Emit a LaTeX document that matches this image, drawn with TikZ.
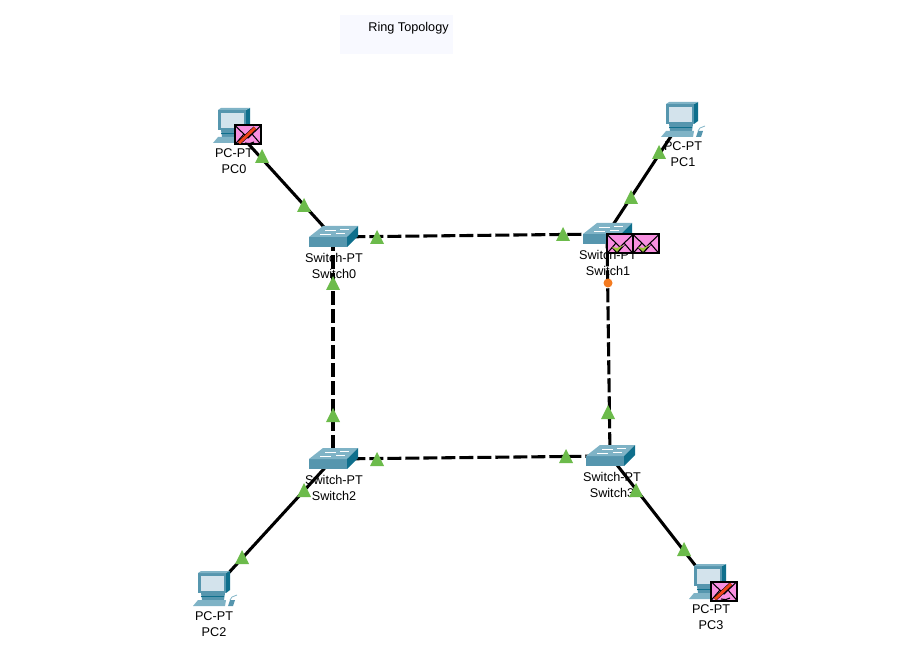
\documentclass[tikz,border=0pt]{standalone}
\usepackage{fontspec}
\setmainfont{Liberation Sans}
\usepackage{xcolor}
\usepackage{tikz}
\usetikzlibrary{positioning,calc}

\definecolor{linkgreen}{HTML}{6CBB4B}
\definecolor{linkorange}{HTML}{F47B20}
\definecolor{mailpink}{HTML}{F88FE0}
\definecolor{pencilred}{HTML}{F0441A}
\definecolor{checkgreen}{HTML}{9CC53A}
\definecolor{devfront}{HTML}{5696AE}
\definecolor{devtop}{HTML}{7FB3C6}
\definecolor{devside}{HTML}{0F6F8C}
\definecolor{devscreen}{HTML}{D3E3EC}
\definecolor{titlefill}{HTML}{F8F9FF}

\tikzset{
    devnode/.style={inner sep=0pt, minimum size=0pt},
    devlabel/.style={align=center, inner sep=0pt, text=black, font=\fontsize{9.5}{12}\selectfont},
    copper/.style={black, line width=2.3pt},
    fiber/.style={black, line width=2.3pt, dash pattern=on 10.6pt off 2.9pt},
    switchpt/.pic={
        \fill[devfront] (-24,0) -- (14,0) -- (14,10) -- (-24,10) -- cycle;
        \fill[devtop] (-24,0) -- (-10,-11) -- (25,-11) -- (14,0) -- cycle;
        \fill[devside] (14,0) -- (25,-11) -- (25,-1) -- (14,10) -- cycle;
        \draw[white, line width=0.6pt] (-8,-7) -- (3,-7) (7,-8) -- (16,-8) (-13,-3) -- (-2,-3) (3,-4) -- (12,-4);
    },
    pcpt/.pic={
        \fill[devfront] (-15,-17) -- (13,-17) -- (13,3) -- (-15,3) -- cycle;
        \fill[devside] (13,-17) -- (17,-19) -- (17,0) -- (13,3) -- cycle;
        \fill[devtop] (-15,-17) -- (-12,-19) -- (17,-19) -- (13,-17) -- cycle;
        \fill[devscreen] (-12,-14) rectangle (11,1);
        \fill[devfront] (-12,3) -- (12,3) -- (11,10) -- (-11,10) -- cycle;
        \fill[devside] (-12,6) rectangle (11,7);
        \fill[devtop] (-20,16) -- (-15,10) -- (13,10) -- (12,16) -- cycle;
        \fill[devfront] (15,16) -- (17,10) -- (22,10) -- (20,16) -- cycle;
        \draw[devtop, line width=0.6pt] (17,10) -- (19,7) -- (24,5);
    },
    mail/.pic={
        \draw[black, fill=mailpink, line width=1.5pt] (-13,-9.5) rectangle (13,9.5);
        \draw[black, line width=0.8pt] (-13,-9.5) -- (0,3) -- (13,-9.5) (-13,9.5) -- (-4,-1) (13,9.5) -- (4,-1);
    },
    mailfail/.pic={
        \pic {mail};
        \draw[black, line width=0.8pt] (-3,8) to[bend right=25] (6,7);
        \draw[black, line width=3pt] (-9,8) -- (7,-7);
        \draw[pencilred, line width=2.2pt] (-9,8) -- (7,-7);
    },
    mailok/.pic={
        \pic {mail};
        \fill[black] (-8,4) -- (-3,10) -- (5,1) -- (-3,6) -- cycle;
        \fill[checkgreen] (-8,3) -- (-3,8) -- (3,1) -- (-3,4) -- cycle;
    }
}

\begin{document}
\begin{tikzpicture}[x=0.75pt, y=-0.75pt]
\useasboundingbox (0,0) rectangle (923,655);

% title
\fill[titlefill] (340,15) rectangle (453,54);
\node[devlabel] (title) at (408.5,28) {Ring Topology};

% devices
\foreach \name/\x/\y in {pc0/233/127, pc1/681/121, pc2/213/590, pc3/709/583,
    sw0/333/237, sw1/607/234, sw2/333/459, sw3/610/456}
    \node[devnode] (\name) at (\x,\y) {};

% labels
\node[devlabel] (pc0lab) at (234,161) {PC-PT\\PC0};
\node[devlabel] (pc1lab) at (683,154) {PC-PT\\PC1};
\node[devlabel] (pc2lab) at (214,624) {PC-PT\\PC2};
\node[devlabel] (pc3lab) at (711,617) {PC-PT\\PC3};
\node[devlabel] (sw0lab) at (334,266) {Switch-PT\\Switch0};
\node[devlabel] (sw1lab) at (608,263) {Switch-PT\\Switch1};
\node[devlabel] (sw2lab) at (334,488) {Switch-PT\\Switch2};
\node[devlabel] (sw3lab) at (612,485) {Switch-PT\\Switch3};

% links
\draw[copper] (pc0) -- (sw0);
\draw[copper] (pc1) -- (sw1);
\draw[copper] (pc2) -- (sw2);
\draw[copper] (pc3) -- (sw3);
\draw[fiber] (sw0) -- (sw1);
\draw[fiber] (sw2) -- (sw3);
\draw[fiber] (sw0) -- (sw2);
\draw[fiber] (sw1) -- (sw3);

% icons
\foreach \name in {pc0,pc1,pc2,pc3}
    \pic at (\name) {pcpt};
\foreach \name in {sw0,sw1,sw2,sw3}
    \pic at (\name) {switchpt};

% link lights
\foreach \x/\y in {262/156, 304/205, 333/283, 333/415, 377/237, 563/234,
    659/152, 631/197, 608/412, 377/459, 566/456, 304/490, 242/557, 636/490, 684/549}
    \fill[linkgreen] (\x-7,\y+7) -- (\x,\y-7) -- (\x+7,\y+7) -- cycle;
\fill[linkorange] (608,283) circle (4.5);

% packets
\pic at (248,135) {mailfail};
\pic at (724,591) {mailfail};
\pic at (620,244) {mailok};
\pic at (646,244) {mailok};
\end{tikzpicture}
\end{document}
